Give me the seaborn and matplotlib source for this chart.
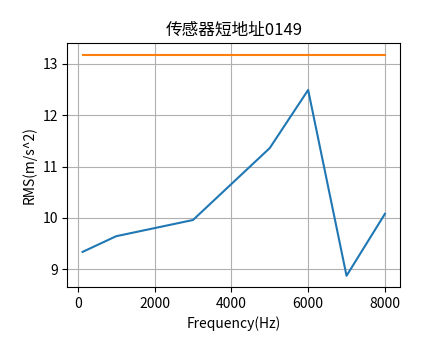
import matplotlib
matplotlib.use("Agg")
import matplotlib.pyplot as plt
import seaborn as sns
import pandas as pd

plt.rcParams['font.family'] = ['Noto Sans CJK SC', 'DejaVu Sans']
plt.rcParams['axes.unicode_minus'] = False

freq = [125, 1000, 3000, 5000, 6000, 7000, 8000]
rms = [9.34, 9.645, 9.96, 11.36, 12.49, 8.875, 10.08]
limit = [13.18] * len(freq)

df = pd.DataFrame({'freq': freq, 'rms': rms, 'limit': limit})

fig = plt.figure(figsize=(4.44, 3.59), dpi=100)
ax = fig.add_subplot(111)
sns.lineplot(data=df, x='freq', y='rms', color='#1f77b4', linewidth=1.5, ax=ax)
sns.lineplot(data=df, x='freq', y='limit', color='#ff7f0e', linewidth=1.5, ax=ax)
ax.set_title("传感器短地址0149", fontsize=12)
ax.set_xlabel("Frequency(Hz)", fontsize=10)
ax.set_ylabel("RMS(m/s^2)", fontsize=10)
ax.set_xticks([0, 2000, 4000, 6000, 8000])
ax.grid(True, color='#b0b0b0', linewidth=0.8)
fig.subplots_adjust(left=0.152, right=0.901, top=0.879, bottom=0.201)
plt.savefig("out.png", dpi=100)
plt.close()
